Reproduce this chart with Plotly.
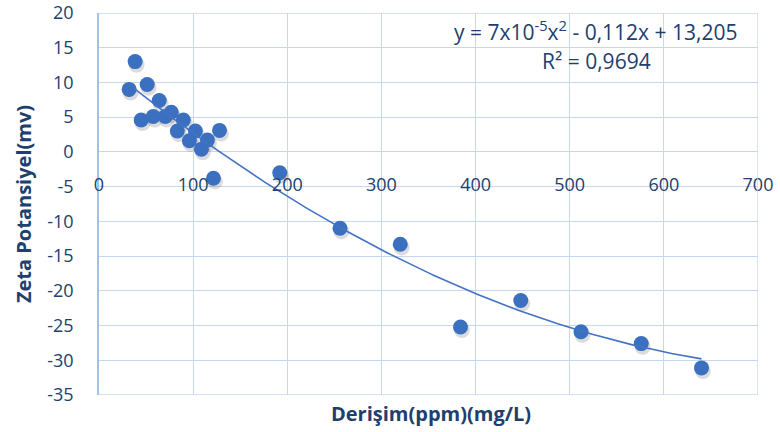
import numpy as np
import plotly.graph_objects as go

# Concentration (ppm, mg/L) and measured zeta potential (mV)
derisim = [32, 38.4, 44.8, 51.2, 57.6, 64, 70.4, 76.8, 83.2, 89.6, 96, 102.4,
           108.8, 115.2, 121.6, 128, 192, 256, 320, 384, 448, 512, 576, 640]
zeta = [9.0, 13.0, 4.6, 9.7, 5.1, 7.4, 5.1, 5.7, 3.0, 4.6, 1.6, 3.0,
        0.4, 1.7, -3.8, 3.1, -3.0, -11.0, -13.3, -25.2, -21.4, -25.9, -27.6, -31.1]

# Second-order polynomial trendline coefficients (as printed on the chart)
a2, a1, a0 = 7e-5, -0.112, 13.205
r2 = 0.9694

x_ticks = [0, 100, 200, 300, 400, 500, 600, 700]
y_ticks = [20, 15, 10, 5, 0, -5, -10, -15, -20, -25, -30, -35]

W, H = 780, 432
ML, MR, MT, MB = 99, 22, 13, 37
plot_h = H - MT - MB

blue = "#3b6fbf"
text_col = "#203f6e"
grid_col = "#c6d8f0"
font_family = "Open Sans, Noto Sans, sans-serif"

fig = go.Figure()

# soft drop shadow under the markers (offset a couple of pixels down-right)
fig.add_trace(go.Scatter(
    x=[v + 1.5 for v in derisim], y=[v - 0.45 for v in zeta],
    mode="markers",
    marker=dict(size=16, color="rgba(60,60,60,0.18)"),
    hoverinfo="skip", showlegend=False))

fig.add_trace(go.Scatter(
    x=derisim, y=zeta, mode="markers",
    marker=dict(size=15, color=blue),
    showlegend=False, name="Zeta"))

xs = np.linspace(min(derisim), max(derisim), 200)
fig.add_trace(go.Scatter(
    x=xs, y=a2 * xs**2 + a1 * xs + a0, mode="lines",
    line=dict(color="#4472c4", width=1.6),
    hoverinfo="skip", showlegend=False))

# x-axis labels sit just under the zero line
label_px = 168
xpos = (H - MB - label_px) / plot_h

eq_x = (596 - ML) / (W - ML - MR)

fig.update_layout(
    width=W, height=H,
    margin=dict(l=ML, r=MR, t=MT, b=MB, autoexpand=False),
    paper_bgcolor="white", plot_bgcolor="white",
    font=dict(family=font_family, color=text_col, size=18),
    xaxis=dict(
        range=[0, 700], tickvals=x_ticks, ticktext=[str(v) for v in x_ticks],
        showgrid=True, gridcolor=grid_col, gridwidth=1.3,
        zeroline=False, showline=False, ticks="", automargin=False,
        anchor="free", position=xpos, ticklabelstandoff=4,
        tickfont=dict(size=18, color=text_col),
    ),
    yaxis=dict(
        range=[-35, 20], tickvals=y_ticks, ticktext=[str(v) for v in y_ticks],
        showgrid=True, gridcolor=grid_col, gridwidth=1.3, automargin=False,
        zeroline=False, showline=True, linecolor="#a3c1e8", linewidth=1.5,
        ticks="", ticklabelstandoff=20,
        tickfont=dict(size=18, color=text_col),
        title=dict(text="<b>Zeta Potansiyel(mv)</b>", standoff=10,
                   font=dict(size=20, color=text_col)),
    ),
    shapes=[
        # outer grid edges at x=700, y=20 and y=-35
        dict(type="line", xref="x", yref="paper", x0=700, x1=700, y0=0, y1=1,
             line=dict(color=grid_col, width=1.3)),
        dict(type="line", xref="paper", yref="y", x0=0, x1=1, y0=20, y1=20,
             line=dict(color=grid_col, width=1.3)),
        dict(type="line", xref="paper", yref="y", x0=0, x1=1, y0=-35, y1=-35,
             line=dict(color=grid_col, width=1.3)),
    ],
    annotations=[
        dict(text="<b>Derişim(ppm)(mg/L)</b>", xref="paper", yref="paper",
             x=(431 - ML) / (W - ML - MR), y=-(413 - (H - MB)) / plot_h,
             xanchor="center", yanchor="middle",
             showarrow=False, font=dict(size=20, color=text_col)),
        dict(text="y = 7x10<sup>-5</sup>x<sup>2</sup> - 0,112x + 13,205",
             xref="paper", yref="paper",
             x=eq_x, y=(H - MB - 31) / plot_h,
             xanchor="center", yanchor="middle", showarrow=False,
             font=dict(size=21, color=text_col)),
        dict(text="R² = " + f"{r2:.4f}".replace(".", ","),
             xref="paper", yref="paper",
             x=eq_x, y=(H - MB - 61) / plot_h,
             xanchor="center", yanchor="middle", showarrow=False,
             font=dict(size=21, color=text_col)),
    ],
)

fig.write_html("out.html")
